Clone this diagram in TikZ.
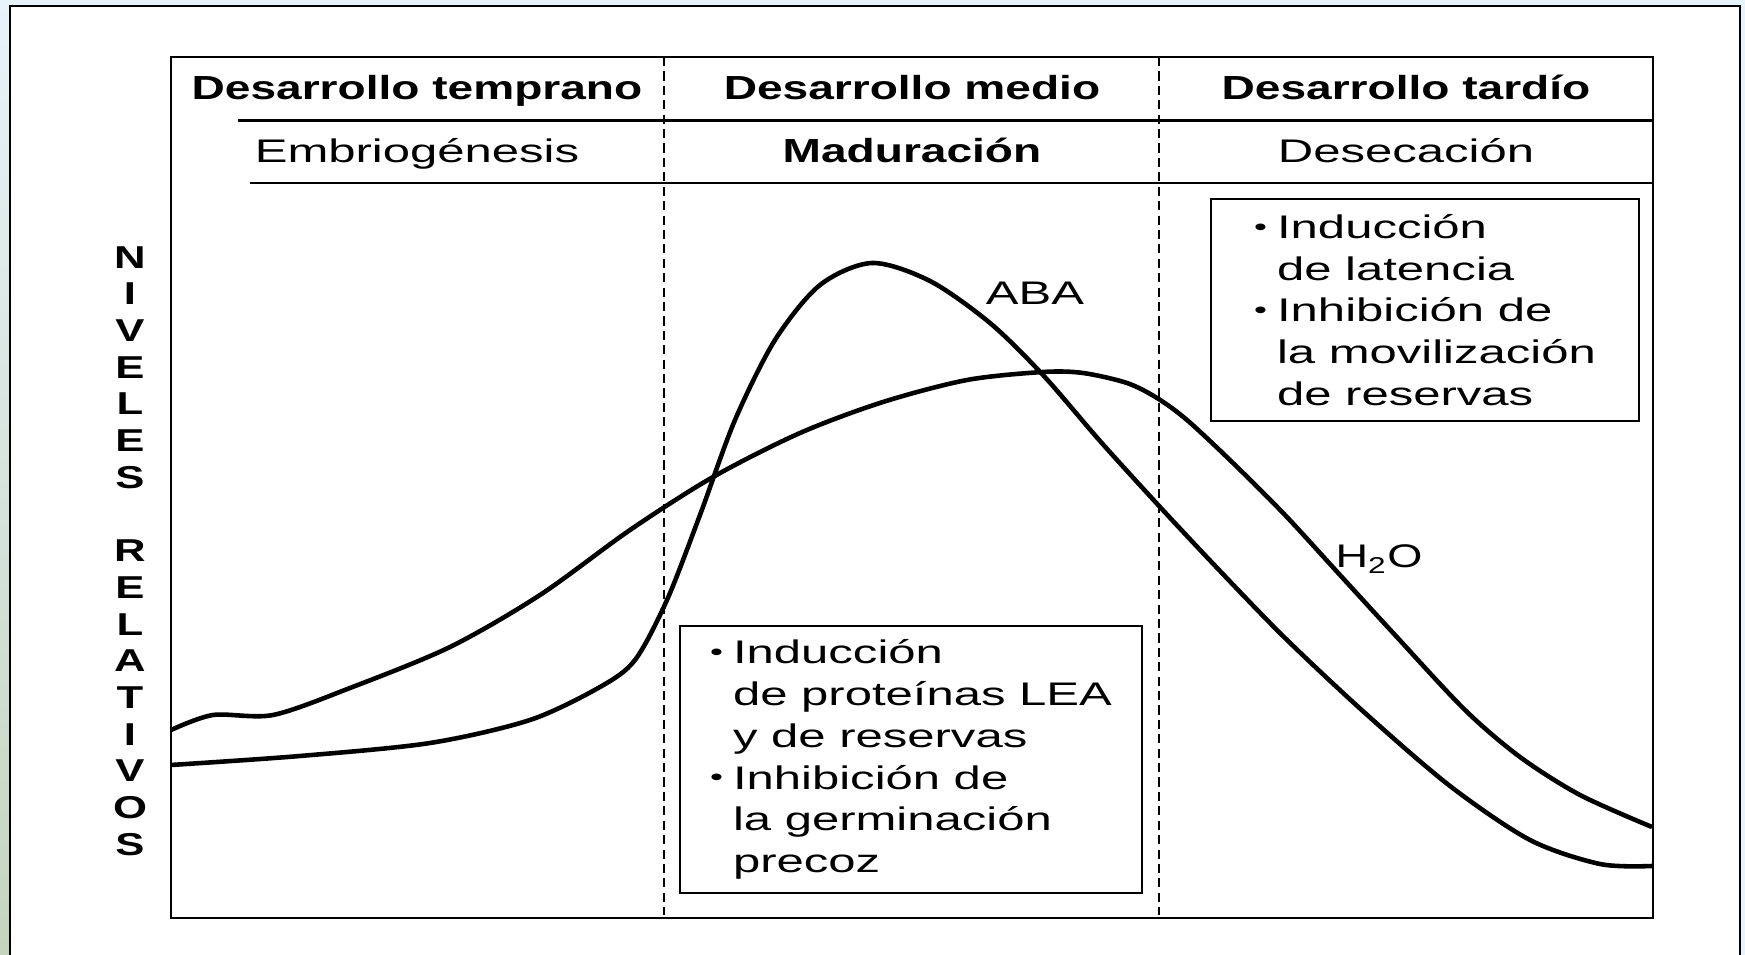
\documentclass[tikz,border=0pt]{standalone}
\usepackage{fontspec}
\setmainfont{Liberation Sans}[FakeStretch=1.5]
\newfontfamily\widebold{Liberation Sans}[FakeStretch=1.38]
\usepackage{tikz}
\usetikzlibrary{positioning}

\definecolor{pagebg}{RGB}{230,243,250}
\definecolor{leafgreen}{RGB}{196,213,190}

\newcommand{\itembul}{\makebox[0.23cm][l]{\raisebox{0.9pt}{\scriptsize\textbullet}}}
\newcommand{\itemgap}{\hspace*{0.23cm}}

\tikzset{
	axisline/.style={line width=0.7pt},
	phaseline/.style={dash pattern=on 2.6pt off 1.5pt, line width=0.55pt},
	curve/.style={line width=1.3pt, line join=round},
	headtext/.style={anchor=base, inner sep=0pt, font=\widebold\bfseries\fontsize{9.5}{11}\selectfont},
	phasetext/.style={anchor=base, inner sep=0pt, font=\fontsize{9.3}{11}\selectfont},
	infobox/.style={draw, rectangle, line width=0.55pt, align=left, font=\fontsize{9.3}{11.9}\selectfont}
}

\begin{document}
\begin{tikzpicture}
		\useasboundingbox (0,0) rectangle (17.45,9.55);
		
		%Page background and frame
		\fill[pagebg] (0,0) rectangle (17.45,9.55);
		\shade[top color=pagebg, bottom color=leafgreen] (0,0) rectangle (0.10,9.55);
		\fill[white] (0.10,0) rectangle (17.40,9.49);
		\draw[line width=0.6pt] (0.10,0) -- (0.10,9.49) -- (17.40,9.49) -- (17.40,0);
		
		%Plot frame and header rows
		\node (Grafico) at (9.12,4.675) [draw, rectangle, axisline, minimum width=14.82cm, 
		minimum height=8.61cm]{};
		\draw[axisline] (2.38,8.345) -- (16.53,8.345);
		\draw[axisline] (2.50,7.72) -- (16.53,7.72);
		
		%Phase boundaries
		\draw[phaseline] (6.64,8.98) -- (6.64,0.40);
		\draw[phaseline] (11.59,8.98) -- (11.59,0.40);
		
		%Writing inside the header
		\node (Temprano) at (4.17,8.55) [headtext]{Desarrollo temprano};
		\node (Medio) at (9.12,8.55) [headtext]{Desarrollo medio};
		\node (Tardio) at (14.06,8.55) [headtext]{Desarrollo tardío};
		\node (Embriogenesis) at (4.17,7.92) [phasetext]{Embriogénesis};
		\node (Maduracion) at (9.12,7.92) [headtext]{Maduración};
		\node (Desecacion) at (14.06,7.92) [phasetext]{Desecación};
		
		%Vertical axis label
		\node (Niveles) at (1.30,4.04) [align=center, inner sep=0pt, 
		font=\widebold\bfseries\fontsize{9}{10.44}\selectfont]{N\\I\\V\\E\\L\\E\\S\\~\\R\\E\\L\\A\\T\\I\\V\\O\\S};
		
		%Water content
		\draw[curve] plot[smooth] coordinates {(1.71,2.25) (2.13,2.40) (2.73,2.40) (3.50,2.67) 
		(4.50,3.08) (5.40,3.60) (6.30,4.25) (7.13,4.78) (8.00,5.22) (8.83,5.53) 
		(9.67,5.75) (10.43,5.83) (10.83,5.82) (11.27,5.72) (11.57,5.57) (11.87,5.35) (12.33,4.92) 
		(12.85,4.40) (13.40,3.80) (13.95,3.20) (14.65,2.45) (15.20,1.98) (15.80,1.60) (16.52,1.28)};
		
		%ABA content
		\draw[curve] plot[smooth] coordinates {(1.71,1.90) (3.00,1.99) (4.30,2.12) (5.30,2.35) 
		(6.00,2.68) (6.35,2.95) (6.67,3.55) (7.00,4.40) (7.35,5.35) (7.75,6.15) (8.20,6.70) 
		(8.72,6.92) (9.30,6.74) (9.90,6.32) (10.43,5.80) (11.00,5.14) (11.60,4.48) (12.20,3.84) 
		(12.85,3.17) (13.65,2.42) (14.50,1.69) (15.30,1.15) (16.00,0.91) (16.52,0.89)};
		
		%Curve labels
		\node (ABA) at (10.35,6.50) [phasetext]{ABA};
		\node (H2O) at (13.79,3.87) [anchor=base, inner sep=0pt, 
		font=\widebold\fontsize{9.3}{11}\selectfont]{H\textsubscript{2}O};
		
		%Boxes with the effects
		\node (Efectos medio) at (9.11,1.955) [infobox, minimum width=4.62cm, 
		minimum height=2.67cm]{\itembul Inducción\\\itemgap de proteínas LEA\\\itemgap y de reservas\\
		\itembul Inhibición de\\\itemgap la germinación\\\itemgap precoz};
		\node (Efectos tardio) at (14.25,6.45) [infobox, minimum width=4.28cm, 
		minimum height=2.22cm]{\itembul Inducción\\\itemgap de latencia\\\itembul Inhibición de\\
		\itemgap la movilización\\\itemgap de reservas};
		
\end{tikzpicture}
\end{document}
